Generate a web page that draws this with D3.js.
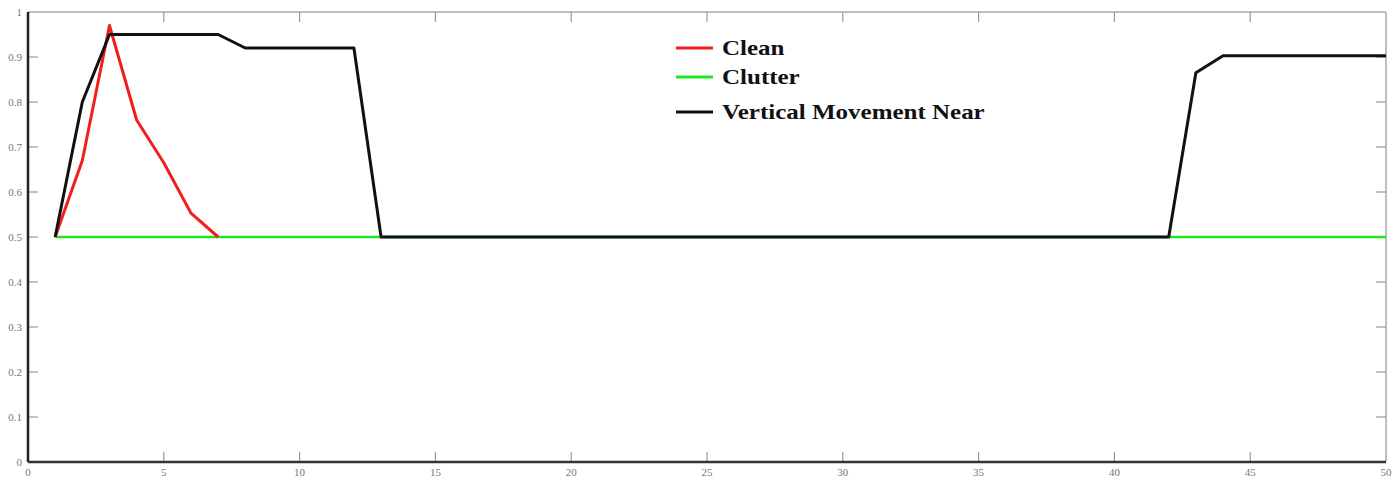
<!DOCTYPE html>
<html lang="en">
<head>
  <meta charset="UTF-8">
  <title>Clean / Clutter / Vertical Movement Near</title>
  <script src="https://d3js.org/d3.v7.min.js"></script>
  <style>
    body { margin: 0; background: #fff; }
    .tick-label { font-family: "Liberation Serif", serif; font-size: 11px; fill: #777; }
    .legend text { font-family: "Liberation Serif", "Times New Roman", serif; font-weight: bold; font-size: 21px; fill: #111; }
  </style>
</head>
<body>
  <div id="chart"></div>

  <script>
    // data
    const cleanX = [1, 2, 3, 4, 5, 6, 7];
    const cleanY = [0.5, 0.67, 0.97, 0.76, 0.665, 0.553, 0.5];

    const clutterX = [1, 50];
    const clutterY = [0.5, 0.5];

    const verticalX = [1, 2, 3, 7, 8, 12, 13, 42, 43, 44, 50];
    const verticalY = [0.5, 0.8, 0.95, 0.95, 0.92, 0.92, 0.5, 0.5, 0.865, 0.903, 0.903];

    const xTicks = [0, 5, 10, 15, 20, 25, 30, 35, 40, 45, 50];
    const yTicks = [0, 0.1, 0.2, 0.3, 0.4, 0.5, 0.6, 0.7, 0.8, 0.9, 1];

    const seriesNames = ["Clean", "Clutter", "Vertical Movement Near"];
    const seriesColors = ["#f21d1d", "#1fe81f", "#111111"];

    const width = 1399;
    const height = 480;
    const margin = { top: 12, right: 13, bottom: 18, left: 28 };

    const x = d3.scaleLinear().domain([0, 50]).range([margin.left, width - margin.right]);
    const y = d3.scaleLinear().domain([0, 1]).range([height - margin.bottom, margin.top]);

    const svg = d3.select("#chart").append("svg")
      .attr("width", width)
      .attr("height", height);

    // frame: top and right in light grey, left and bottom dark
    svg.append("line")
      .attr("x1", x(0)).attr("x2", x(50)).attr("y1", y(1)).attr("y2", y(1))
      .attr("stroke", "#aaa").attr("stroke-width", 1.5);
    svg.append("line")
      .attr("x1", x(50)).attr("x2", x(50)).attr("y1", y(1)).attr("y2", y(0))
      .attr("stroke", "#aaa").attr("stroke-width", 1.5);

    // ticks pointing inward, on all four sides
    const tickLen = 10;
    const ticks = svg.append("g").attr("stroke", "#999").attr("stroke-width", 1.2);
    yTicks.slice(1, -1).forEach(v => {
      ticks.append("line").attr("x1", x(0)).attr("x2", x(0) + tickLen).attr("y1", y(v)).attr("y2", y(v));
      ticks.append("line").attr("x1", x(50)).attr("x2", x(50) - tickLen).attr("y1", y(v)).attr("y2", y(v));
    });
    xTicks.slice(1, -1).forEach(v => {
      ticks.append("line").attr("x1", x(v)).attr("x2", x(v)).attr("y1", y(0)).attr("y2", y(0) - tickLen);
      ticks.append("line").attr("x1", x(v)).attr("x2", x(v)).attr("y1", y(1)).attr("y2", y(1) + tickLen);
    });

    svg.append("line")
      .attr("x1", x(0)).attr("x2", x(0)).attr("y1", y(1)).attr("y2", y(0))
      .attr("stroke", "#222").attr("stroke-width", 2.5);
    svg.append("line")
      .attr("x1", x(0)).attr("x2", x(50)).attr("y1", y(0)).attr("y2", y(0))
      .attr("stroke", "#333").attr("stroke-width", 2.5);

    // tick labels
    svg.append("g").selectAll("text")
      .data(yTicks)
      .join("text")
      .attr("class", "tick-label")
      .attr("x", x(0) - 6)
      .attr("y", d => y(d) + 4)
      .attr("text-anchor", "end")
      .text(d => d3.format("~g")(d));

    svg.append("g").selectAll("text")
      .data(xTicks)
      .join("text")
      .attr("class", "tick-label")
      .attr("x", d => x(d))
      .attr("y", y(0) + 14)
      .attr("text-anchor", "middle")
      .text(d => d);

    // series
    const line = d3.line().x(d => x(d[0])).y(d => y(d[1]));
    const series = [
      d3.zip(cleanX, cleanY),
      d3.zip(clutterX, clutterY),
      d3.zip(verticalX, verticalY)
    ];
    const widths = [3, 2.6, 3];
    const drawOrder = [1, 0, 2];

    svg.append("g").selectAll("path")
      .data(drawOrder)
      .join("path")
      .attr("d", i => line(series[i]))
      .attr("fill", "none")
      .attr("stroke", i => seriesColors[i])
      .attr("stroke-width", i => widths[i])
      .attr("stroke-linejoin", "round");

    // legend, no box; the text in the source is stretched sideways
    const legendRows = [48, 77, 112];
    const legend = svg.append("g").attr("class", "legend");
    seriesNames.forEach((name, i) => {
      legend.append("line")
        .attr("x1", 676).attr("x2", 713)
        .attr("y1", legendRows[i]).attr("y2", legendRows[i])
        .attr("stroke", seriesColors[i]).attr("stroke-width", 3);
      legend.append("text")
        .attr("transform", `translate(722,${legendRows[i] + 7}) scale(1.19,1)`)
        .text(name);
    });
  </script>
</body>
</html>
